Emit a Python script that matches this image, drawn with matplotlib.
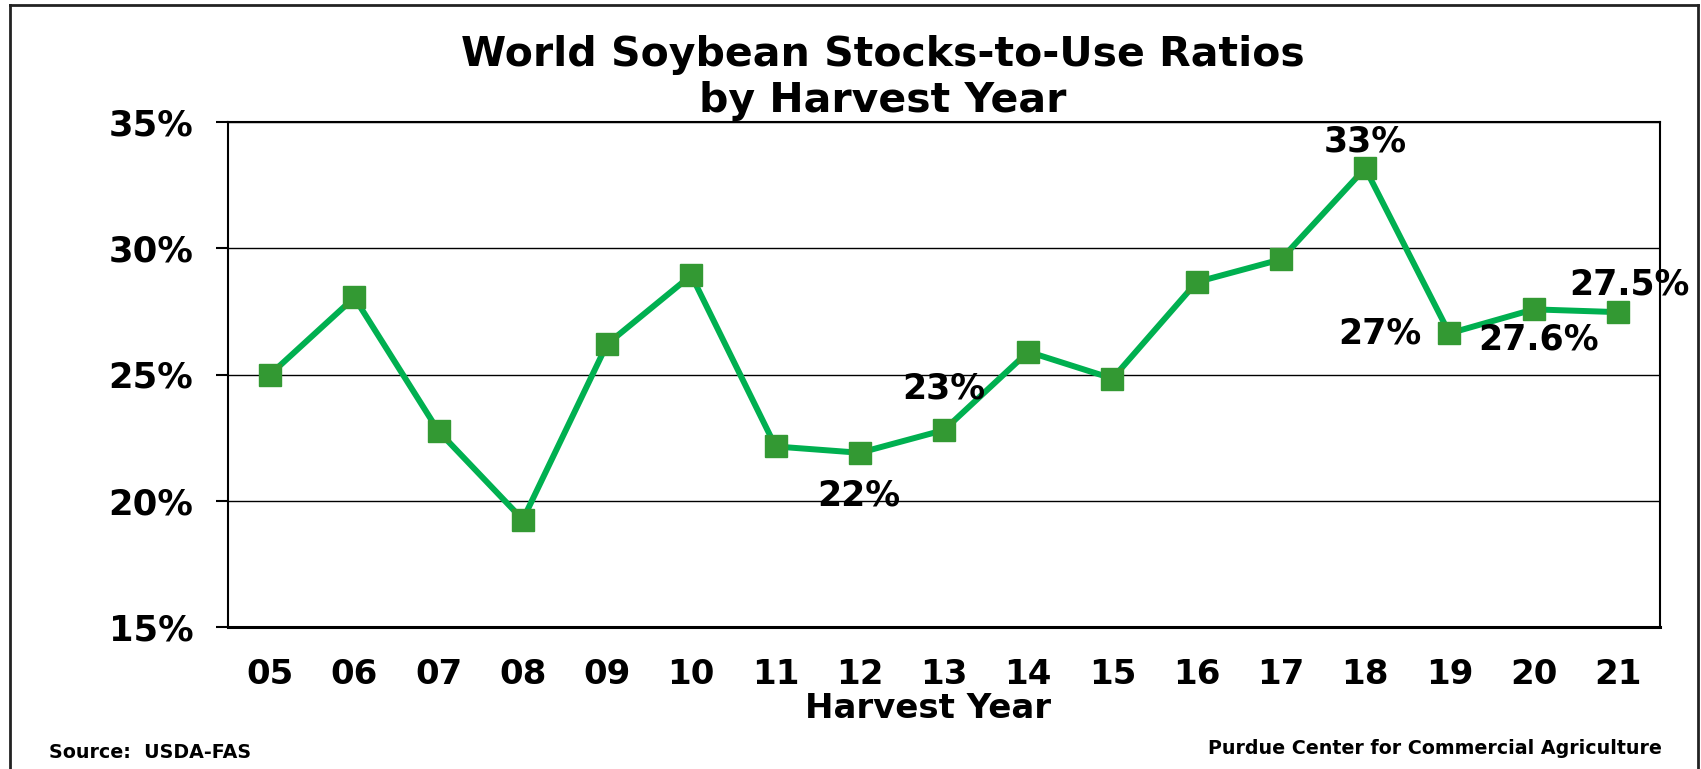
import matplotlib
matplotlib.use("Agg")
import matplotlib.pyplot as plt
from matplotlib.lines import Line2D
from matplotlib.ticker import FuncFormatter, MultipleLocator

years = ["05", "06", "07", "08", "09", "10", "11", "12", "13", "14", "15",
         "16", "17", "18", "19", "20", "21"]
ratios = [25.0, 28.05, 22.75, 19.25, 26.2, 28.93, 22.15, 21.9, 22.8, 25.9,
          24.84, 28.66, 29.56, 33.17, 26.63, 27.58, 27.47]
label_idx = [7, 8, 13, 14, 15, 16]
label_text = ["22%", "23%", "33%", "27%", "27.6%", "27.5%"]
label_off = [(-1, -43), (0, 42), (0, 27), (-70, 0), (5, -30), (12, 28)]

plt.rcParams['font.family'] = ['DejaVu Sans']
plt.rcParams['font.weight'] = 'bold'

W, H = 1701, 769
fig = plt.figure(figsize=(W / 100, H / 100), dpi=100)

L, R, T, B = 228, 1660, 122, 627
ax = fig.add_axes([L / W, 1 - B / H, (R - L) / W, (B - T) / H])

x = list(range(len(years)))
ax.plot(x, ratios, color="#00B050", lw=4.3, marker="s", markersize=16.5,
        markerfacecolor="#339933", markeredgecolor="#339933", zorder=3,
        solid_joinstyle="miter")

ax.set_xlim(-0.5, len(years) - 0.5)
ax.set_ylim(15, 35)
ax.yaxis.set_major_locator(MultipleLocator(5))
ax.yaxis.set_major_formatter(FuncFormatter(lambda v, p: f"{v:.0f}%"))
ax.set_xticks(x)
ax.set_xticklabels(years)
ax.grid(axis="y", color="black", lw=1.0)
ax.set_axisbelow(True)

for s in ["left", "top", "right"]:
    ax.spines[s].set_linewidth(1.5)
    ax.spines[s].set_color("black")
ax.spines["bottom"].set_linewidth(2.2)
ax.spines["bottom"].set_color("black")

ax.tick_params(axis="y", direction="out", length=9, width=1.5, pad=16,
               labelsize=25.5)
ax.tick_params(axis="x", length=0, pad=22, labelsize=24.5)
for t in ax.get_xticklabels() + ax.get_yticklabels():
    t.set_fontweight("bold")

ax.set_xlabel("Harvest Year", fontsize=24.5, fontweight="bold")
ax.xaxis.set_label_coords((927.5 - L) / (R - L), -(708 - B) / (B - T))
ax.xaxis.label.set_va("center")

for i, txt, off in zip(label_idx, label_text, label_off):
    ax.annotate(txt, (x[i], ratios[i]), xytext=off, textcoords="offset pixels",
                ha="center", va="center", fontsize=25, fontweight="bold",
                zorder=4)

fig.text(883 / W, 1 - 66 / H, "World Soybean Stocks-to-Use Ratios",
         ha="center", va="baseline", fontsize=29.5, fontweight="bold")
fig.text(883 / W, 1 - 112 / H, "by Harvest Year",
         ha="center", va="baseline", fontsize=29.5, fontweight="bold")

fig.text(49 / W, 1 - 753 / H, "Source:  USDA-FAS", ha="left", va="center",
         fontsize=13.7, fontweight="bold")
fig.text(1662 / W, 1 - 749 / H, "Purdue Center for Commercial Agriculture",
         ha="right", va="center", fontsize=13.7, fontweight="bold")

# outer chart border
bx0, bx1, by0 = 10 / W, 1698 / W, 1 - 5 / H
for xs, ys in [([bx0, bx0], [by0, 0]), ([bx0, bx1], [by0, by0]),
               ([bx1, bx1], [by0, 0])]:
    fig.add_artist(Line2D(xs, ys, color="#222222", lw=2.0,
                          transform=fig.transFigure))

fig.savefig("out.png", dpi=100)
